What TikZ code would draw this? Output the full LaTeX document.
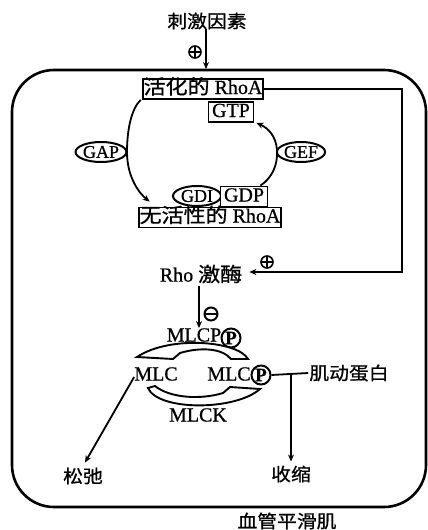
\documentclass[tikz,border=0pt]{standalone}
\usepackage{fontspec}
\setmainfont{Liberation Serif}[FakeBold=0.7]
\newfontfamily\cjk{Noto Sans CJK SC}[FakeStretch=1.1,FakeBold=0.9]
\usetikzlibrary{arrows.meta,shapes.geometric,calc}
\newcommand\zh[1]{{\cjk #1}}
\begin{document}
\begin{tikzpicture}[x=1pt,y=-1pt,
  font=\fontsize{20}{22}\selectfont,
  box/.style={draw,line width=1.8pt,inner sep=1pt,text height=14pt,text depth=4pt},
  ell/.style={ellipse,draw,line width=2pt,inner sep=0pt,font=\fontsize{18}{20}\selectfont},
  arr/.style={line width=1.8pt,-{Stealth[length=7pt,width=6pt]}},
  lbl/.style={inner sep=0pt},
  plusc/.style={circle,draw,line width=1.6pt,minimum size=12pt,inner sep=0pt,
    path picture={\draw[line width=1.5pt] (path picture bounding box.north) -- (path picture bounding box.south)
      (path picture bounding box.west) -- (path picture bounding box.east);}},
  minusc/.style={circle,draw,line width=2pt,minimum size=13pt,inner sep=0pt,
    path picture={\draw[line width=2pt] (path picture bounding box.west) -- (path picture bounding box.east);}},
  pc/.style={circle,draw,line width=2pt,minimum size=19pt,inner sep=0pt,font=\fontsize{19}{19}\selectfont\bfseries},
  cyc/.style={draw,line width=1.9pt,fill=white,line join=miter}
]
\useasboundingbox (0,0) rectangle (428,530);

% cell
\draw[line width=2.6pt,rounded corners=42pt] (12,70) rectangle (426,507);

% stimulus
\node[lbl,font=\cjk\fontsize{18}{20}\selectfont] (stim) at (207,21) {刺激因素};
\coordinate (mem) at (206,69);
\draw[arr] (stim.south -| mem) -- (mem);
\node[plusc] (p0) at (195,52) {};

% RhoA cycle
\node[box,minimum width=114pt] (act) at (203,89) {\zh{活化的} RhoA};
\node[box,minimum width=45pt] (gtp) at (231,112) {GTP};
\node[box,minimum width=139pt] (inact) at (210,217.5) {\zh{无活性的} RhoA};
\node[ell,minimum width=48pt,minimum height=20pt] (gdi) at (197,196) {GDI};
\node[box,minimum width=47pt,fill=white] (gdp) at (244,196.5) {GDP};
\node[ell,minimum width=47pt,minimum height=20pt] (gap) at (101,152) {GAP};
\node[ell,minimum width=46pt,minimum height=20pt] (gef) at (301,152) {GEF};

\draw[arr] ([xshift=-1pt]act.south west) .. controls (132,108) and (127,128) .. (127,152)
  .. controls (127,178) and (140,194) .. ($(inact.north west)+(12,-5)$);
\draw[arr] ($(gdp.north east)+(-8,0)$) .. controls (272,178) and (278,165) .. (277,150)
  .. controls (276,136) and (268,128) .. ($(gtp.south east)+(2,0)$);

% Rho kinase and feedback
\node[lbl] (rho) at (201,274) {Rho \zh{激酶}};
\coordinate (fbA) at (402,89);
\coordinate (fbB) at (402,272);
\draw[arr] (act.east |- fbA) -- (fbA) -- (fbB) -- ($(rho.east |- fbB)+(7,0)$);
\node[plusc] (p1) at (267,262) {};

\node[lbl] (mlcp) at (194,335) {MLCP};
\node[pc] (pp1) at (231,338) {P};
\coordinate (r1) at ($(rho.south)+(-2,3)$);
\draw[arr] (r1) -- (r1 |- mlcp.north);
\node[minusc] (m1) at (211,314) {};

% MLC cycle
\node[lbl] (mlcL) at (156,374) {MLC};
\node[lbl] (mlcR) at (229,374) {MLC};
\node[pc] (pp2) at (261,375) {P};
\draw[cyc] (248,359) .. controls (238,341) and (170,335) .. (137,357) -- (173,359) -- (180,353)
  .. controls (200,347) and (222,348) .. (231,359) -- cycle;
\draw[cyc] (148,388) .. controls (158,411) and (235,411) .. (260,389) -- (230,387) -- (223,393)
  .. controls (200,400) and (170,398) .. (155,386) -- cycle;
\node[lbl] (mlck) at (198,415) {MLCK};

% actin and outcomes
\node[lbl,inner sep=1pt,font=\cjk\fontsize{18}{20}\selectfont] (actin) at (349,373) {肌动蛋白};
\draw[line width=1.8pt] (pp2.east) -- (actin.west);
\coordinate (j) at (291,374);
\node[lbl,font=\cjk\fontsize{18}{20}\selectfont] (shou) at (291,474) {收缩};
\draw[arr] (j) -- ($(shou.north)+(0,-4)$);
\node[lbl,font=\cjk\fontsize{18}{20}\selectfont] (song) at (83,476) {松弛};
\draw[arr] ([yshift=-3pt]mlcL.west) -- ($(song.north)+(2,-5)$);

\node[lbl,font=\cjk\fontsize{18}{20}\selectfont] (vsm) at (287,521) {血管平滑肌};
\end{tikzpicture}
\end{document}
